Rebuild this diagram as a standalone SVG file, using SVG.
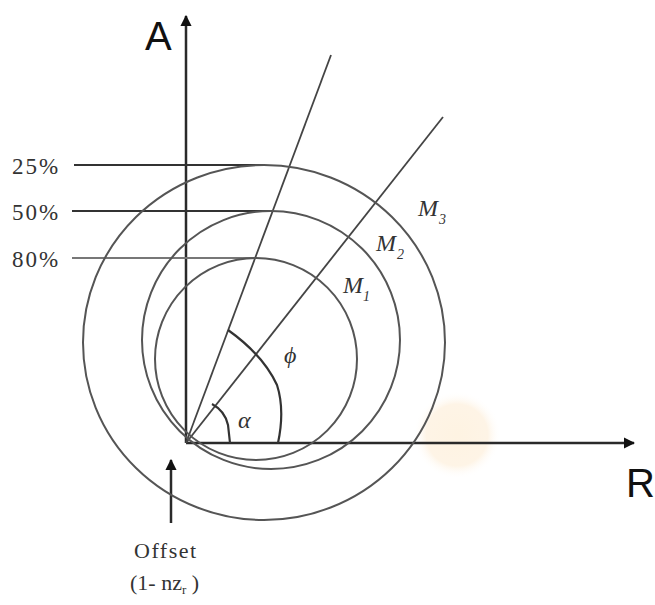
<svg xmlns="http://www.w3.org/2000/svg" width="655" height="605" viewBox="0 0 655 605">
<style>
.axis{stroke:#2a2a2a;stroke-width:2.5;fill:none}
.circ{stroke:#555;stroke-width:2;fill:none}
.ln{stroke:#444;stroke-width:1.8;fill:none}
.ref{stroke:#333;stroke-width:2.2;fill:none}
.serif{font-family:"Liberation Serif","Times New Roman",serif;fill:#333}
.sans{font-family:"Liberation Sans",Arial,sans-serif;fill:#111}
.pct{font-size:23px;letter-spacing:2px}
.m{font-size:24px;font-style:italic}
.sub{font-size:14px;font-style:italic}
</style>
<defs>
<marker id="ah" viewBox="0 0 10 10" refX="9" refY="5" markerWidth="4.5" markerHeight="4.5" orient="auto-start-reverse" markerUnits="strokeWidth">
<path d="M0,0 L10,5 L0,10 Z" fill="#111"/>
</marker>
<radialGradient id="wm">
<stop offset="0" stop-color="#fef3e2"/>
<stop offset="0.7" stop-color="#fef4e6"/>
<stop offset="1" stop-color="#ffffff" stop-opacity="0"/>
</radialGradient>
</defs>
<rect width="655" height="605" fill="#ffffff"/>
<circle cx="457" cy="435" r="44" fill="url(#wm)"/>

<g id="connectors">
<line class="axis" x1="186" y1="443" x2="186" y2="16" marker-end="url(#ah)"/>
<line class="axis" x1="186" y1="443" x2="634" y2="443" marker-end="url(#ah)"/>
<line class="ln" x1="186" y1="443" x2="331" y2="55"/>
<line class="ln" x1="186" y1="443" x2="443" y2="117"/>
<line class="ref" x1="74" y1="165" x2="264" y2="165"/>
<line class="ref" x1="72" y1="211" x2="271" y2="211"/>
<line class="ref" x1="72" y1="258" x2="256" y2="258" style="stroke:#777"/>
<path class="ref" d="M228,330 Q263,355 277,385 Q285,410 278,443"/>
<path class="ref" d="M212,404 Q225,411 228,425 L230,443"/>
<line class="axis" x1="171" y1="523" x2="171" y2="460" stroke-width="2" marker-end="url(#ah)"/>
</g>

<g id="circle-25">
<ellipse class="circ" cx="264" cy="342.5" rx="181" ry="177.5"/>
</g>
<g id="circle-50">
<circle class="circ" cx="271" cy="340" r="129"/>
</g>
<g id="circle-80">
<circle class="circ" cx="256" cy="359" r="101"/>
</g>

<g id="label-A"><text class="sans" x="145" y="50" font-size="40">A</text></g>
<g id="label-R"><text class="sans" x="626" y="497" font-size="40">R</text></g>
<g id="label-25"><text class="serif pct" x="12" y="174">25%</text></g>
<g id="label-50"><text class="serif pct" x="12" y="220">50%</text></g>
<g id="label-80"><text class="serif pct" x="12" y="267">80%</text></g>
<g id="label-M3"><text class="serif m" x="418" y="216">M<tspan class="sub" dx="1" dy="8">3</tspan></text></g>
<g id="label-M2"><text class="serif m" x="376" y="251">M<tspan class="sub" dx="1" dy="8">2</tspan></text></g>
<g id="label-M1"><text class="serif m" x="343" y="293">M<tspan class="sub" dx="0" dy="8">1</tspan></text></g>
<g id="label-phi"><text class="serif" x="284" y="363" font-size="24" font-style="italic">ϕ</text></g>
<g id="label-alpha"><text class="serif" x="238" y="428" font-size="24" font-style="italic">α</text></g>
<g id="label-offset">
<text class="serif" x="134" y="558" font-size="22" letter-spacing="1.5">Offset</text>
<text class="serif" x="130" y="590" font-size="22">(1- nz<tspan font-size="13" dy="4">r</tspan><tspan dy="-4"> )</tspan></text>
</g>
</svg>
